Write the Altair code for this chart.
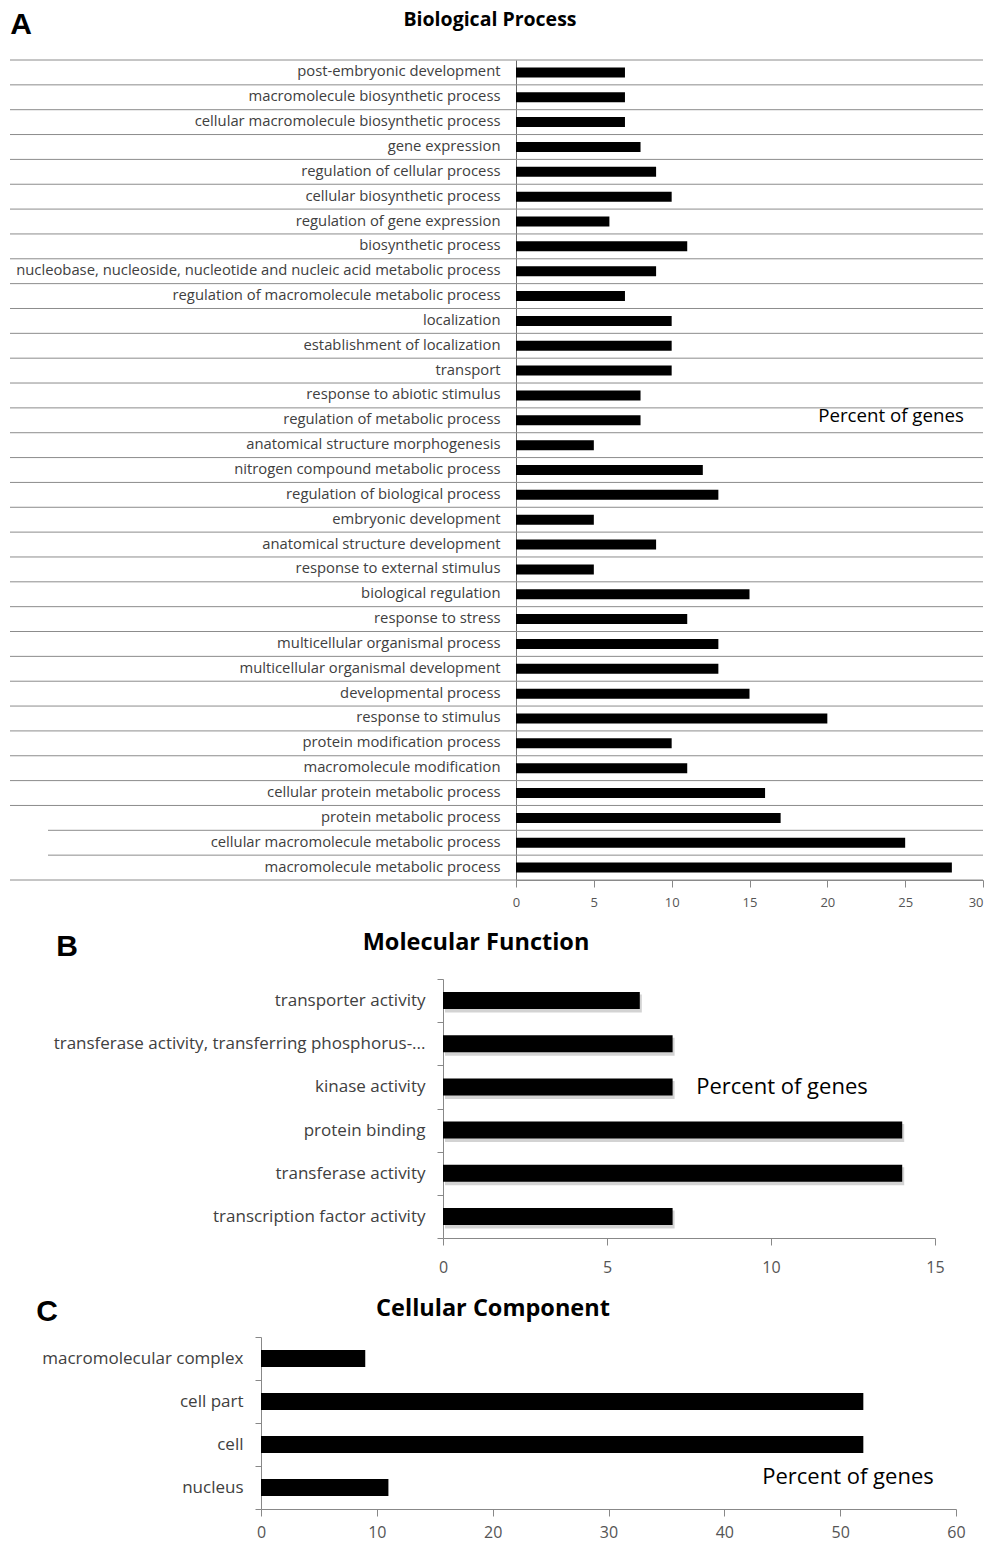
import altair as alt
import pandas as pd

FONT = "Open Sans"

bp_terms = [
    "post-embryonic development",
    "macromolecule biosynthetic process",
    "cellular macromolecule biosynthetic process",
    "gene expression",
    "regulation of cellular process",
    "cellular biosynthetic process",
    "regulation of gene expression",
    "biosynthetic process",
    "nucleobase, nucleoside, nucleotide and nucleic acid metabolic process",
    "regulation of macromolecule metabolic process",
    "localization",
    "establishment of localization",
    "transport",
    "response to abiotic stimulus",
    "regulation of metabolic process",
    "anatomical structure morphogenesis",
    "nitrogen compound metabolic process",
    "regulation of biological process",
    "embryonic development",
    "anatomical structure development",
    "response to external stimulus",
    "biological regulation",
    "response to stress",
    "multicellular organismal process",
    "multicellular organismal development",
    "developmental process",
    "response to stimulus",
    "protein modification process",
    "macromolecule modification",
    "cellular protein metabolic process",
    "protein metabolic process",
    "cellular macromolecule metabolic process",
    "macromolecule metabolic process",
]
bp_values = [7, 7, 7, 8, 9, 10, 6, 11, 9, 7, 10, 10, 10, 8, 8, 5, 12, 13, 5, 9,
             5, 15, 11, 13, 13, 15, 20, 10, 11, 16, 17, 25, 28]
bp_short_grid = ["cellular macromolecule metabolic process",
                 "macromolecule metabolic process"]
bp_ticks = [0, 5, 10, 15, 20, 25, 30]

mf_terms = [
    "transporter activity",
    "transferase activity, transferring phosphorus-...",
    "kinase activity",
    "protein binding",
    "transferase activity",
    "transcription factor activity",
]
mf_values = [6, 7, 7, 14, 14, 7]
mf_ticks = [0, 5, 10, 15]

cc_terms = ["macromolecular complex", "cell part", "cell", "nucleus"]
cc_values = [9, 52, 52, 11]
cc_ticks = [0, 10, 20, 30, 40, 50, 60]

one = pd.DataFrame({"k": [0]})

# all three panels share one left origin (page x = 261); panels A and B
# start their value axis further right inside their own width
OA, OB = 255, 182


def annot(text, x, y, size, weight="normal", font=FONT, color="black"):
    return alt.Chart(pd.DataFrame({"t": [text]})).mark_text(
        fontSize=size, fontWeight=weight, font=font, color=color,
        align="center", baseline="middle"
    ).encode(text="t:N", x=alt.value(x), y=alt.value(y))


# ---------------- Panel A ----------------
WA, HA = 722, 820
dfA = pd.DataFrame({"term": bp_terms, "pct": bp_values})
dfA["short"] = dfA["term"].isin(bp_short_grid)
scA = alt.Scale(domain=bp_terms, paddingInner=0, paddingOuter=0)
yaxA = alt.Axis(title=None, ticks=False, domainColor="#666", labelFont=FONT,
                labelFontSize=14.8, labelColor="#404040", labelPadding=16,
                labelLimit=800, offset=-OA)
xA = alt.X("pct:Q", scale=alt.Scale(domain=[0, 30], nice=False, range=[OA, WA]),
           axis=alt.Axis(values=bp_ticks, title=None, grid=False, tickSize=7,
                         tickColor="#888", domainColor="#888", labelFontSize=13,
                         labelColor="#555", labelFont=FONT, labelPadding=9,
                         labelFlush=False,
                         labelAlign=alt.ExprRef(
                             "datum.value == 30 ? 'right' : 'center'")))

gridA_long = alt.Chart(dfA).mark_rule(color="#8c8c8c").encode(
    y=alt.Y("term:N", scale=scA, bandPosition=0, axis=yaxA),
    x=alt.value(OA - 506), x2=alt.value(WA),
).transform_filter("!datum.short")
gridA_short = alt.Chart(dfA).mark_rule(color="#8c8c8c").encode(
    y=alt.Y("term:N", scale=scA, bandPosition=0, axis=yaxA),
    x=alt.value(OA - 468), x2=alt.value(WA),
).transform_filter("datum.short")
bottomA = alt.Chart(one).mark_rule(color="#8c8c8c").encode(
    x=alt.value(OA - 506), x2=alt.value(WA), y=alt.value(HA))
barsA = alt.Chart(dfA).mark_bar(color="black", size=10).encode(
    y=alt.Y("term:N", scale=scA, axis=yaxA), x=xA)

chartA = alt.layer(
    gridA_long, gridA_short, bottomA, barsA,
    annot("Biological Process", OA - 26, -40, 19.5, "bold"),
    annot("A", OA - 495, -35, 30, "bold", font="Liberation Sans"),
    annot("Percent of genes", OA + 375, 356, 18.7),
).properties(width=WA, height=HA)

# ---------------- Panel B ----------------
WB, HB = 674, 259
dfB = pd.DataFrame({"term": mf_terms, "pct": mf_values})
scB = alt.Scale(domain=mf_terms, paddingInner=0, paddingOuter=0)
yaxB = alt.Axis(title=None, tickBand="extent", tickSize=6, tickColor="#888",
                domainColor="#888", labelFont=FONT, labelFontSize=17,
                labelColor="#404040", labelPadding=12, labelLimit=800,
                offset=-OB)
xB = alt.X("pct:Q", scale=alt.Scale(domain=[0, 15], nice=False, range=[OB, WB]),
           axis=alt.Axis(values=mf_ticks, title=None, grid=False, tickSize=7,
                         tickColor="#888", domainColor="#888", labelFontSize=16,
                         labelColor="#555", labelFont=FONT, labelPadding=14,
                         labelFlush=False))
shadowB = alt.Chart(dfB).mark_bar(color="#a8a8a8", opacity=0.5, size=18,
                                  xOffset=2, yOffset=3).encode(
    y=alt.Y("term:N", scale=scB, axis=yaxB), x=xB)
barsB = alt.Chart(dfB).mark_bar(color="black", size=17).encode(
    y=alt.Y("term:N", scale=scB, axis=yaxB), x=xB)

chartB = alt.layer(
    shadowB, barsB,
    annot("Molecular Function", OB + 33, -36, 23.5, "bold"),
    annot("B", OB - 376, -32, 30, "bold", font="Liberation Sans"),
    annot("Percent of genes", OB + 339, 108, 22),
).properties(width=WB, height=HB)

# ---------------- Panel C ----------------
WC, HC = 695, 172
dfC = pd.DataFrame({"term": cc_terms, "pct": cc_values})
scC = alt.Scale(domain=cc_terms, paddingInner=0, paddingOuter=0)
yaxC = alt.Axis(title=None, tickBand="extent", tickSize=6, tickColor="#888",
                domainColor="#888", labelFont=FONT, labelFontSize=17,
                labelColor="#404040", labelPadding=12, labelLimit=800)
xC = alt.X("pct:Q", scale=alt.Scale(domain=[0, 60], nice=False),
           axis=alt.Axis(values=cc_ticks, title=None, grid=False, tickSize=7,
                         tickColor="#888", domainColor="#888", labelFontSize=16,
                         labelColor="#555", labelFont=FONT, labelPadding=8,
                         labelFlush=False))
barsC = alt.Chart(dfC).mark_bar(color="black", size=17).encode(
    y=alt.Y("term:N", scale=scC, axis=yaxC), x=xC)

chartC = alt.layer(
    barsC,
    annot("Cellular Component", 232, -28, 23.5, "bold"),
    annot("C", -214, -25, 30, "bold", font="Liberation Sans"),
    annot("Percent of genes", 587, 140, 22),
).properties(width=WC, height=HC)

chart = alt.vconcat(chartA, chartB, chartC, spacing=22).properties(
    padding={"left": 1, "top": 2, "right": 0, "bottom": 2}
).configure_view(strokeWidth=0)

chart.save("out.html", embed_options={"renderer": "svg", "actions": False})
